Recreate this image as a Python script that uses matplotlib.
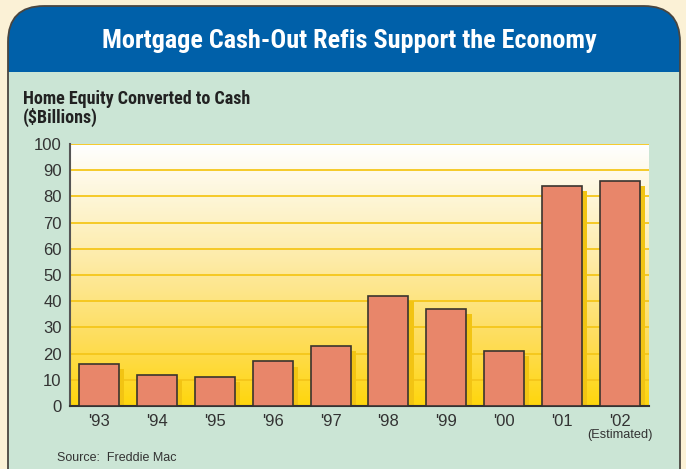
# Mortgage cash-out refis chart

import numpy
import matplotlib
matplotlib.use('Agg')
import matplotlib.pyplot
import matplotlib.colors
from matplotlib.patches import FancyBboxPatch, Rectangle

# Data
years=["'93","'94","'95","'96","'97","'98","'99","'00","'01","'02"]
cash_out=[16,12,11,17,23,42,37,21,84,86]
yticks=[0,10,20,30,40,50,60,70,80,90,100]

narrow=['Roboto Condensed','Archivo Narrow','DejaVu Sans']
plain=['Liberation Sans','DejaVu Sans']

fig=matplotlib.pyplot.figure(figsize=(6.86,4.69),dpi=100,facecolor='#FBF1D6')

# Background axes in pixel coordinates
bg=fig.add_axes([0,0,1,1])
bg.set_xlim(0,686)
bg.set_ylim(469,0)
bg.axis('off')

panel=FancyBboxPatch((8,6),672,500,boxstyle='round,pad=0,rounding_size=36',
                     facecolor='#CBE5D5',edgecolor='none',zorder=1)
bg.add_patch(panel)
header=Rectangle((0,0),686,72,facecolor='#0060A9',edgecolor='none',zorder=2)
bg.add_patch(header)
header.set_clip_path(panel)
border=FancyBboxPatch((8,6),672,500,boxstyle='round,pad=0,rounding_size=36',
                      facecolor='none',edgecolor='#4A4640',linewidth=1.3,zorder=3)
bg.add_patch(border)

bg.text(349,41,'Mortgage Cash-Out Refis Support the Economy',color='white',
        fontsize=18.9,fontweight='bold',family=narrow,ha='center',va='center',zorder=4)
bg.text(23,99,'Home Equity Converted to Cash',color='#222222',fontsize=13,
        fontweight='bold',family=narrow,ha='left',va='center',zorder=4)
bg.text(23,117,'($Billions)',color='#222222',fontsize=13,
        fontweight='bold',family=narrow,ha='left',va='center',zorder=4)
bg.text(57,458,'Source:  Freddie Mac',color='#333333',fontsize=9,
        family=plain,ha='left',va='center',zorder=4)

# Chart axes
ax=fig.add_axes([70/686,1-406/469,579/686,262/469])
ax.set_xlim(-0.5,9.5)
ax.set_ylim(0,100)

# Gradient background
grad=matplotlib.colors.LinearSegmentedColormap.from_list('g',
    [(0,'#FFD60C'),(0.25,'#FEDD5A'),(0.55,'#FDEBA6'),(0.85,'#FEF8E2'),(1,'#FFFFFF')])
ax.imshow(numpy.linspace(0,1,256).reshape(-1,1),cmap=grad,origin='lower',
          aspect='auto',extent=[-0.5,9.5,0,100],zorder=0)

for y in yticks[1:]:
    ax.axhline(y,color='#F5C61A',linewidth=1.3,zorder=1)

x=numpy.arange(len(years))
width=0.69
# Shadows
ax.bar(x+0.09,numpy.array(cash_out)-2,width=width,color='#F2C413',
       edgecolor='none',zorder=2)
ax.bar(x,cash_out,width=width,color='#E8866A',edgecolor='#3A342E',
       linewidth=1.2,zorder=3)

ax.set_yticks(yticks)
ax.set_xticks(x)
ax.set_xticklabels(years)
ax.tick_params(length=0,labelsize=12,colors='#333333',pad=6)
for lbl in ax.get_xticklabels()+ax.get_yticklabels():
    lbl.set_family(plain)
for s in ['top','right']:
    ax.spines[s].set_visible(False)
ax.spines['left'].set_color('#555555')
ax.spines['left'].set_linewidth(1.5)
ax.spines['bottom'].set_color('#333333')
ax.spines['bottom'].set_linewidth(1.5)
ax.set_zorder(5)

bg.text(620,435,'(Estimated)',color='#333333',fontsize=9.2,family=plain,
        ha='center',va='center',zorder=4)

matplotlib.pyplot.savefig('out.png',dpi=100,facecolor=fig.get_facecolor())
